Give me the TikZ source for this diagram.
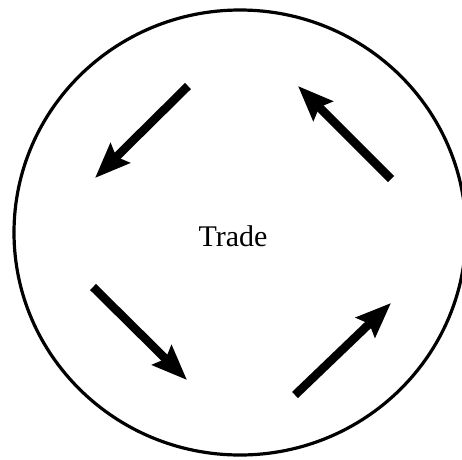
\documentclass[tikz,border=0pt]{standalone}
\usepackage{fontspec}
\setmainfont{Liberation Serif}
\usetikzlibrary{arrows.meta}
\begin{document}
\begin{tikzpicture}[x=1pt,y=-1pt,
  ring/.style={line width=3.2pt},
  flow/.style={line width=8.5pt,line cap=butt,-{Stealth[length=35pt,width=27pt,inset=5pt]}}]
\useasboundingbox (0,0) rectangle (462,459);
\draw[ring] (240,232.5) ellipse [x radius=226,y radius=222.5];
\node (t) at (233,236) {\fontsize{30}{36}\selectfont Trade};
\coordinate (a1) at (188,86);  \coordinate (b1) at (95,178);
\coordinate (a2) at (391,179); \coordinate (b2) at (298,86);
\coordinate (a3) at (93,287);  \coordinate (b3) at (187,380);
\coordinate (a4) at (295,395); \coordinate (b4) at (391,303);
\draw[flow] (a1) -- (b1);
\draw[flow] (a2) -- (b2);
\draw[flow] (a3) -- (b3);
\draw[flow] (a4) -- (b4);
\end{tikzpicture}
\end{document}
